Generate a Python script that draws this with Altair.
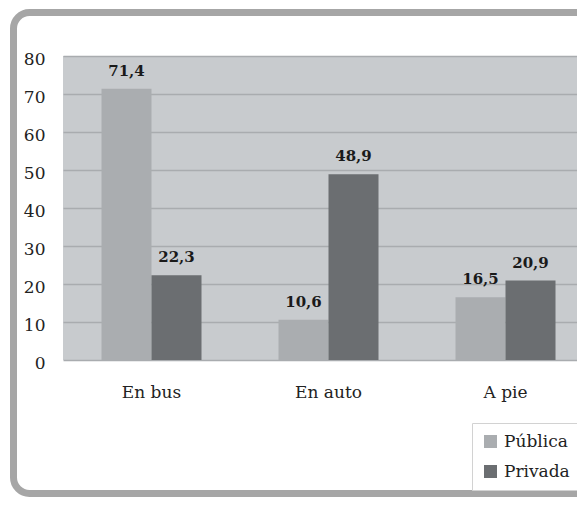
import altair as alt
import pandas as pd

categories = ["En bus", "En auto", "A pie"]
series = ["Pública", "Privada"]
publica = [71.4, 10.6, 16.5]
privada = [22.3, 48.9, 20.9]
y_ticks = [0, 10, 20, 30, 40, 50, 60, 70, 80]
colors = ["#aaadb0", "#6b6e71"]

rows = []
for i, c in enumerate(categories):
    rows.append({"modo": c, "tipo": series[0], "valor": publica[i]})
    rows.append({"modo": c, "tipo": series[1], "valor": privada[i]})
df = pd.DataFrame(rows)

FONT = "DejaVu Serif"

x_enc = alt.X(
    "modo:N", sort=categories, title=None,
    scale=alt.Scale(range=[0, 531], paddingInner=0.435, paddingOuter=0.2175),
    axis=alt.Axis(labelAngle=0, domain=False, ticks=False, labelPadding=24,
                  labelFontSize=17, labelFont=FONT, labelColor="#222222",
                  labelBaseline="top", grid=False),
)
xoff_enc = alt.XOffset("tipo:N", sort=series,
                       scale=alt.Scale(paddingInner=0, paddingOuter=0))
y_enc = alt.Y(
    "valor:Q", title=None,
    scale=alt.Scale(domain=[0, 80], nice=False),
    axis=alt.Axis(values=y_ticks, domain=False, ticks=False, labelPadding=18,
                  labelFontSize=17, labelFont=FONT, labelColor="#222222",
                  labelOffset=3,
                  gridColor="#a9acaf", gridWidth=1.5),
)

base = alt.Chart(df)

bars = base.mark_bar().encode(
    x=x_enc, xOffset=xoff_enc, y=y_enc,
    color=alt.Color(
        "tipo:N", sort=series,
        scale=alt.Scale(domain=series, range=colors),
        legend=alt.Legend(
            title=None, orient="none", legendX=409, legendY=367,
            strokeColor="#d2d2d2", fillColor="white", padding=10,
            symbolType="square", symbolSize=169, symbolStrokeWidth=0,
            labelFontSize=17, labelFont=FONT, labelColor="#222222",
            rowPadding=12, labelOffset=5,
        ),
    ),
)

labels = base.transform_calculate(
    etiqueta="replace(format(datum.valor, '.1f'), '.', ',')"
).mark_text(
    font=FONT, fontSize=15, fontWeight="bold", dy=-13,
    baseline="alphabetic", color="#1a1a1a",
).encode(x=x_enc, xOffset=xoff_enc, y=y_enc, text="etiqueta:N")

frame = alt.Chart(pd.DataFrame({"f": [0]})).mark_rect(
    fill="transparent", stroke="#a6a6a6", strokeWidth=7, cornerRadius=16,
).encode(
    x=alt.value(-49.5), x2=alt.value(640),
    y=alt.value(-43.5), y2=alt.value(437.5),
)

chart = alt.layer(frame, bars, labels).properties(
    width=514, height=304,
    autosize=alt.AutoSizeParams(type="none"),
    padding={"left": 55, "top": 48, "right": 0, "bottom": 137},
    background="white",
).configure_view(fill="#c8cbce", stroke=None)

chart.save("out.html", embed_options={"renderer": "svg", "actions": False})
